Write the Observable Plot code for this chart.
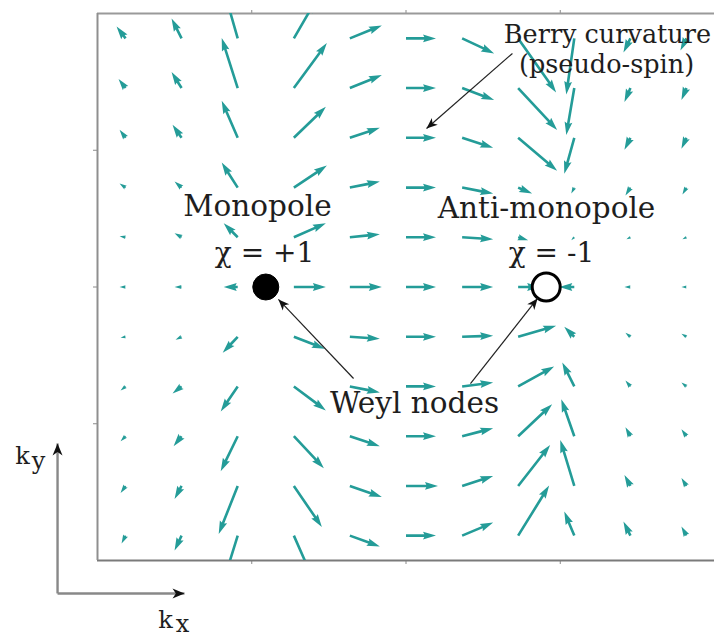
<!DOCTYPE html>
<html><head><meta charset="utf-8">
<script src="https://cdn.jsdelivr.net/npm/d3@7"></script>
<script src="https://cdn.jsdelivr.net/npm/@observablehq/plot@0.6"></script>
<style>body{margin:0;background:#fff}#chart svg{display:block}</style>
</head><body><div id="chart"></div>
<script>
// grid of the Berry-curvature field (k-space units)
const kxCols = [-1.818,-1.455,-1.091,-0.727,-0.364,0,0.364,0.727,1.091,1.455,1.818];
const kyRows = [1.818,1.455,1.091,0.727,0.364,0,-0.364,-0.727,-1.091,-1.455,-1.818];
// kx component of each arrow, one array per row (top to bottom)
const uRows = [
  [-9,-10,-12,22,32,30,32,38,-8,-7,-6],
  [-7,-10,-16,33,32,30,32,39,-8,-6,-5],
  [-6,-9,-16,32,30,30,31,39,-10,-6,-5],
  [-6,-7,-16,33,30,30,31,14,-3,-5,-4],
  [-6,-7,-14,32,30,30,31,10,-3,-4,-4],
  [-6,-7,-14,32,32,30,31,22,-15,-6,-5],
  [-5,-6,-15,31,30,30,31,38,-10,-5,-5],
  [-5,-9,-17,32,30,30,31,36,-12,-5,-5],
  [-5,-8,-17,30,30,30,31,34,-13,-5,-5],
  [-5,-7,-19,28,32,32,31,32,-14,-6,-5],
  [-4,-7,-18,22,30,30,31,31,-10,-7,-5]
];
// ky component of each arrow
const vRows = [
  [12,20,42,38,13,0,-15,-54,-56,-14,-12],
  [9,16,50,45,13,0,-12,-42,-47,-14,-12],
  [8,13,37,31,10,0,-10,-33,-36,-12,-11],
  [4,6,25,22,6,0,-6,-6,-6,-8,-7],
  [1,4,14,14,3,0,-2,-3,-3,-2,-2],
  [0,0,0,0,0,0,0,0,0,0,0],
  [-1,-3,-16,-12,-2,0,1,11,10,4,3],
  [-4,-7,-25,-24,-6,0,4,20,24,6,4],
  [-5,-10,-35,-32,-10,0,8,32,37,9,7],
  [-7,-13,-48,-41,-11,0,10,41,46,11,8],
  [-8,-15,-58,-50,-11,0,13,50,24,14,9]
];
// Weyl nodes
const nodeKx = [-0.909, 0.909];
const nodeKy = [0, 0];
const nodeChi = [1, -1];
// tick values
const kxTicks = [-1, 0, 1];
const kyTicks = [-1, 0, 1];
// annotation texts and anchors
const bigLabels = ["Monopole", "Anti-monopole", "Weyl nodes"];
const bigKx = [-0.963, 0.911, 0.055];
const bigKy = [0.589, 0.574, -0.852];
const chiLabels = ["χ = +1", "χ = -1"];
const chiKx = [-0.917, 0.943];
const chiKy = [0.252, 0.252];
const berryLabels = ["Berry curvature", "(pseudo-spin)"];
const berryKx = [1.306, 1.300];
const berryKy = [1.846, 1.627];
// annotation arrows: tail -> head
const annX1 = [0.690, -0.340, 0.418];
const annY1 = [1.708, -0.669, -0.706];
const annX2 = [0.133, -0.827, 0.853];
const annY2 = [1.159, -0.091, -0.084];
// k-axis indicator
const axOriginKx = -2.259, axOriginKy = -2.241;
const axEndKx = -1.436, axEndKy = -1.144;

const W = 715, H = 637;
const mL = 97, mR = 1, mT = 13, mB = 77;
const xDom = [-2, 2], yDom = [-2, 2];
const xs = d3.scaleLinear(xDom, [mL, W - mR]);
const ys = d3.scaleLinear(yDom, [H - mB, mT]);
const TEAL = "#249c98";

const field = [];
kyRows.forEach((ky, r) => kxCols.forEach((kx, c) => {
  field.push({kx, ky, u: uRows[r][c], v: vRows[r][c]});
}));

// matplotlib-like quiver arrow (shaft width w)
const w = 2.6;
const quiver = {draw(ctx, l) {
  const L = l / w;
  let pts;
  if (L < 5) {
    const s = L / 5;
    pts = [[0,0.5],[0.5,0.5],[0,1.5],[5,0],[0,-1.5],[0.5,-0.5],[0,-0.5]].map(([a,b]) => [a*s, b*s]);
  } else {
    pts = [[0,0.5],[L-4.5,0.5],[L-5,1.5],[L,0],[L-5,-1.5],[L-4.5,-0.5],[0,-0.5]];
  }
  pts.forEach(([a,b], i) => { const X = b*w, Y = -a*w; i ? ctx.lineTo(X, Y) : ctx.moveTo(X, Y); });
  ctx.closePath();
}};
// stealth arrowhead drawn at the tip
const stealth = (hl, hw) => ({draw(ctx, l) {
  ctx.moveTo(0, -l);
  ctx.lineTo(-hw, -l + hl);
  ctx.lineTo(0, -l + hl * 0.72);
  ctx.lineTo(hw, -l + hl);
  ctx.closePath();
}});
const ang = (x1, y1, x2, y2) => Math.atan2(xs(x2) - xs(x1), -(ys(y2) - ys(y1))) * 180 / Math.PI;

const ann = annX1.map((x1, i) => ({x1, y1: annY1[i], x2: annX2[i], y2: annY2[i], a: ang(x1, annY1[i], annX2[i], annY2[i])}));
const axes = [
  {x1: axOriginKx, y1: axOriginKy, x2: axOriginKx, y2: axEndKy},
  {x1: axOriginKx, y1: axOriginKy, x2: axEndKx, y2: axOriginKy}
].map(d => ({...d, a: ang(d.x1, d.y1, d.x2, d.y2)}));
const nodes = nodeKx.map((kx, i) => ({kx, ky: nodeKy[i], chi: nodeChi[i]}));
const FONT = "DejaVu Serif";

const chart = Plot.plot({
  width: W, height: H,
  marginLeft: mL, marginRight: mR, marginTop: mT, marginBottom: mB,
  style: {color: "#8a8a8a", background: "#fff"},
  x: {domain: xDom, axis: "both", ticks: kxTicks, tickFormat: () => "", tickSize: 4, label: null},
  y: {domain: yDom, axis: "left", ticks: kyTicks, tickFormat: () => "", tickSize: 4, label: null},
  length: {type: "linear", domain: [0, 100], range: [0, 100]},
  marks: [
    Plot.ruleY([yDom[1]], {stroke: "#9a9a9a", strokeWidth: 2}),
    Plot.ruleY([yDom[0]], {stroke: "#7a7a7a", strokeWidth: 2.2}),
    Plot.ruleX([xDom[0]], {stroke: "#8f8f8f", strokeWidth: 2}),
    Plot.vector(field, {
      x: "kx", y: "ky",
      length: d => Math.hypot(d.u, d.v),
      rotate: d => Math.atan2(d.u, d.v) * 180 / Math.PI,
      anchor: "start", shape: quiver,
      fill: TEAL, stroke: "none", clip: true
    }),
    Plot.dot(nodes.filter(d => d.chi > 0), {x: "kx", y: "ky", r: 13, fill: "#000", stroke: "#000", strokeWidth: 1}),
    Plot.dot(nodes.filter(d => d.chi < 0), {x: "kx", y: "ky", r: 14, fill: "#fff", stroke: "#000", strokeWidth: 3}),
    Plot.text(bigLabels, {x: (d, i) => bigKx[i], y: (d, i) => bigKy[i], text: d => d, fontSize: 29.5, fontFamily: FONT, fill: "#1e1e1e"}),
    Plot.text(chiLabels, {x: (d, i) => chiKx[i], y: (d, i) => chiKy[i], text: d => d, fontSize: 28, fontFamily: FONT, fill: "#1e1e1e"}),
    Plot.text(berryLabels, {x: (d, i) => berryKx[i], y: (d, i) => berryKy[i], text: d => d, fontSize: 25.5, fontFamily: FONT, fill: "#1e1e1e"}),
    Plot.link(ann, {x1: "x1", y1: "y1", x2: "x2", y2: "y2", stroke: "#222", strokeWidth: 1.2}),
    Plot.vector(ann, {x: "x2", y: "y2", rotate: "a", length: 14, anchor: "end", shape: stealth(11, 4.5), fill: "#111", stroke: "none"}),
    Plot.link(axes, {x1: "x1", y1: "y1", x2: "x2", y2: "y2", stroke: "#888", strokeWidth: 2.4}),
    Plot.vector(axes, {x: "x2", y: "y2", rotate: "a", length: 16, anchor: "end", shape: stealth(12, 5), fill: "#111", stroke: "none"}),
    Plot.text(["k"], {x: -2.486, y: -1.239, text: d => d, fontSize: 24, fontFamily: FONT, fill: "#1e1e1e"}),
    Plot.text(["y"], {x: -2.382, y: -1.276, text: d => d, fontSize: 24, fontFamily: FONT, fill: "#1e1e1e"}),
    Plot.text(["k"], {x: -1.559, y: -2.440, text: d => d, fontSize: 24, fontFamily: FONT, fill: "#1e1e1e"}),
    Plot.text(["x"], {x: -1.449, y: -2.470, text: d => d, fontSize: 24, fontFamily: FONT, fill: "#1e1e1e"})
  ]
});
document.getElementById("chart").appendChild(chart);
</script></body></html>
